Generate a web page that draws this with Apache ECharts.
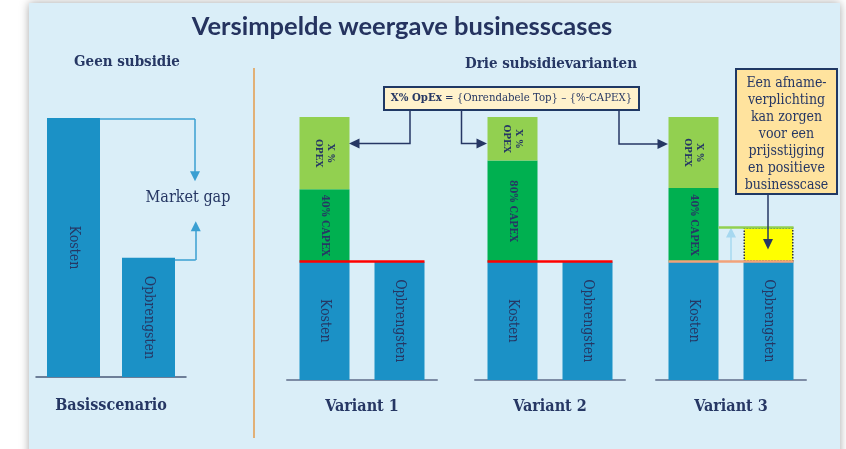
<!DOCTYPE html>
<html>
<head>
<meta charset="utf-8">
<script src="https://cdn.jsdelivr.net/npm/echarts@6/dist/echarts.min.js"></script>
<style>
  html, body { margin: 0; padding: 0; background: #fff; }
  #main { width: 846px; height: 449px; }
</style>
</head>
<body>
<div id="main"></div>
<script>
// basisscenario (geen subsidie)
var baseCats = ['Kosten', 'Opbrengsten'];
var baseValues = [100, 46];

// drie subsidievarianten
var variantNames = ['Variant 1', 'Variant 2', 'Variant 3'];
var variantCats = ['Kosten', 'Opbrengsten'];
var blueValues = [[45, 45], [45, 45], [45, 45]];
var capexValues = [27.5, 38.5, 28];
var capexLabels = ['40% CAPEX', '80% CAPEX', '40% CAPEX'];
var opexValues = [27.5, 16.5, 27.5];
var opexLabel = 'X %\nOPEX';
var priceRise = 13; // variant 3: prijsstijging door afnameverplichting

// market gap pijlen, [x in categorie-eenheden, waarde]
var gapDown = [[0.35, 99.6], [1.62, 99.6], [1.62, 77.5]];
var gapUp = [[1.35, 45.2], [1.63, 45.2], [1.63, 58.2]];

var serif = '"DejaVu Serif Condensed", "DejaVu Serif", serif';
var navy = '#263764';
var blue = '#1B91C6';
var darkGreen = '#00B050';
var lightGreen = '#92D050';

var grids = [
  { left: 36, top: 118, width: 150, height: 259 },
  { left: 287, top: 117, width: 150, height: 263 },
  { left: 475, top: 117, width: 150, height: 263 },
  { left: 656, top: 117, width: 150, height: 263 }
];
var axisNames = ['Basisscenario'].concat(variantNames);

var xAxes = [], yAxes = [];
grids.forEach(function (g, i) {
  xAxes.push({
    type: 'category', gridIndex: i, data: i === 0 ? baseCats : variantCats,
    axisTick: { show: false }, axisLabel: { show: false },
    axisLine: { lineStyle: { color: i === 0 ? '#4A5A78' : '#7D8CA5', width: i === 0 ? 1.5 : 2 } },
    name: axisNames[i], nameLocation: 'middle', nameGap: i === 0 ? 21 : 19,
    nameTextStyle: { fontFamily: serif, fontWeight: 'bold', fontSize: 16, color: navy }
  });
  xAxes.push({ type: 'value', gridIndex: i, min: -0.5, max: 1.5, show: false });
  yAxes.push({ type: 'value', gridIndex: i, min: 0, max: 100, show: false });
});

function barLabel(fmt, size, bold) {
  return {
    show: true, position: 'inside', rotate: -90, formatter: fmt,
    fontFamily: serif, fontSize: size, fontWeight: bold ? 'bold' : 'normal',
    color: navy, lineHeight: size + 2
  };
}

var series = [];
series.push({
  type: 'bar', xAxisIndex: 0, yAxisIndex: 0, barWidth: 53, data: baseValues,
  itemStyle: { color: blue }, label: barLabel('{b}', 14, false)
});
series.push({
  type: 'lines', coordinateSystem: 'cartesian2d', xAxisIndex: 1, yAxisIndex: 0, z: 5, clip: false,
  symbol: 'none', lineStyle: { color: '#3A9FD2', width: 1.5, opacity: 1 },
  data: [{ coords: [gapDown[0], gapDown[1]] }, { coords: [gapUp[0], gapUp[1]] }]
});
series.push({
  type: 'lines', coordinateSystem: 'cartesian2d', xAxisIndex: 1, yAxisIndex: 0, z: 5, clip: false,
  symbol: ['none', 'triangle'], symbolSize: 10,
  lineStyle: { color: '#3A9FD2', width: 1.5, opacity: 1 },
  data: [{ coords: [gapDown[1], gapDown[2]] }, { coords: [gapUp[1], gapUp[2]] }]
});

variantNames.forEach(function (name, i) {
  var xi = 2 + i * 2, yi = 1 + i, stack = 'v' + i;
  series.push({
    type: 'bar', xAxisIndex: xi, yAxisIndex: yi, stack: stack, barWidth: 50,
    data: blueValues[i], itemStyle: { color: blue }, label: barLabel('{b}', 14, false)
  });
  series.push({
    type: 'bar', xAxisIndex: xi, yAxisIndex: yi, stack: stack, barWidth: 50,
    data: [capexValues[i], '-'], itemStyle: { color: darkGreen },
    label: barLabel(capexLabels[i], 10.5, true)
  });
  series.push({
    type: 'bar', xAxisIndex: xi, yAxisIndex: yi, stack: stack, barWidth: 50,
    data: [opexValues[i], '-'], itemStyle: { color: lightGreen },
    label: barLabel(opexLabel, 10, true)
  });
  var level = blueValues[i][0];
  var lines = [{ coords: [[-1 / 3, level], [4 / 3, level]], lineStyle: { color: i < 2 ? '#FF0000' : '#F2A27A' } }];
  if (i === 2) {
    series.push({
      type: 'bar', xAxisIndex: xi, yAxisIndex: yi, stack: stack, barWidth: 50,
      data: ['-', priceRise],
      itemStyle: { color: '#FFFF00', borderColor: '#333', borderWidth: 1.5, borderType: 'dotted' }
    });
    lines.push({ coords: [[1 / 3, level + priceRise], [4 / 3, level + priceRise]], lineStyle: { color: lightGreen } });
    series.push({
      type: 'lines', coordinateSystem: 'cartesian2d', xAxisIndex: xi + 1, yAxisIndex: yi, z: 5, clip: false,
      symbol: ['none', 'triangle'], symbolSize: 10,
      lineStyle: { color: '#A6D8F0', width: 1.5, opacity: 1 },
      data: [{ coords: [[0.5, level], [0.5, level + priceRise - 1.9]] }]
    });
  }
  series.push({
    type: 'lines', coordinateSystem: 'cartesian2d', xAxisIndex: xi + 1, yAxisIndex: yi, z: 6, clip: false,
    symbol: 'none', lineStyle: { width: 2.5, opacity: 1 }, data: lines
  });
});

function arrow(points, tip, dir) {
  var h = 10.5, w = 5, t = tip, tri;
  if (dir === 'left') tri = [[t[0], t[1]], [t[0] + h, t[1] - w], [t[0] + h, t[1] + w]];
  else if (dir === 'right') tri = [[t[0], t[1]], [t[0] - h, t[1] - w], [t[0] - h, t[1] + w]];
  else tri = [[t[0], t[1]], [t[0] - w, t[1] - h], [t[0] + w, t[1] - h]];
  return [
    { type: 'polyline', z: 100, shape: { points: points }, style: { stroke: '#263764', lineWidth: 1.5, fill: null } },
    { type: 'polygon', z: 100, shape: { points: tri }, style: { fill: '#263764' } }
  ];
}

var graphic = [
  { type: 'rect', z: -10, shape: { x: 29, y: 3, width: 811, height: 470 },
    style: { fill: '#DAEEF8', shadowBlur: 9, shadowColor: 'rgba(0,0,0,0.35)' } },
  { type: 'line', shape: { x1: 254, y1: 68, x2: 254, y2: 438 }, style: { stroke: '#E39B4C', lineWidth: 1.5 } },
  { type: 'text', x: 402, y: 27, style: { text: 'Versimpelde weergave businesscases', align: 'center', verticalAlign: 'middle',
    fontFamily: 'Lato', fontWeight: 'bold', fontSize: 25.5, fill: '#25335F' } },
  { type: 'text', x: 127, y: 62, style: { text: 'Geen subsidie', align: 'center', verticalAlign: 'middle',
    fontFamily: serif, fontWeight: 'bold', fontSize: 15, fill: navy } },
  { type: 'text', x: 551, y: 64, style: { text: 'Drie subsidievarianten', align: 'center', verticalAlign: 'middle',
    fontFamily: serif, fontWeight: 'bold', fontSize: 15, fill: navy } },
  { type: 'text', x: 188, y: 198, style: { text: 'Market gap', align: 'center', verticalAlign: 'middle',
    fontFamily: serif, fontSize: 16, fill: navy } },
  { type: 'rect', z: 100, shape: { x: 384, y: 87, width: 255, height: 23 },
    style: { fill: '#FFF2CC', stroke: '#1F3864', lineWidth: 2 } },
  { type: 'text', z: 101, x: 511.5, y: 98.5, style: {
    text: '{b|X% OpEx} = {Onrendabele Top} – {%-CAPEX}', align: 'center', verticalAlign: 'middle',
    fontFamily: serif, fontSize: 11.3, fill: navy, rich: { b: { fontWeight: 'bold', fontFamily: serif, fontSize: 11.3, fill: navy } } } },
  { type: 'rect', z: 100, shape: { x: 736, y: 69, width: 101, height: 125 },
    style: { fill: '#FFE39E', stroke: '#1F3864', lineWidth: 2 } },
  { type: 'text', z: 101, x: 786.5, y: 134, style: {
    text: 'Een afname-\nverplichting\nkan zorgen\nvoor een\nprijsstijging\nen positieve\nbusinesscase',
    align: 'center', verticalAlign: 'middle', fontFamily: serif, fontSize: 14, lineHeight: 17, fill: navy } }
]
  .concat(arrow([[410, 110], [410, 143.5], [359, 143.5]], [349, 143.5], 'left'))
  .concat(arrow([[461.5, 110], [461.5, 143.5], [477, 143.5]], [487, 143.5], 'right'))
  .concat(arrow([[619, 110], [619, 144], [658, 144]], [668, 144], 'right'))
  .concat(arrow([[768, 194], [768, 240]], [768, 249.5], 'down'));

var chart = echarts.init(document.getElementById('main'));
chart.setOption({
  animation: false,
  grid: grids,
  xAxis: xAxes,
  yAxis: yAxes,
  series: series,
  graphic: graphic
});
</script>
</body>
</html>
